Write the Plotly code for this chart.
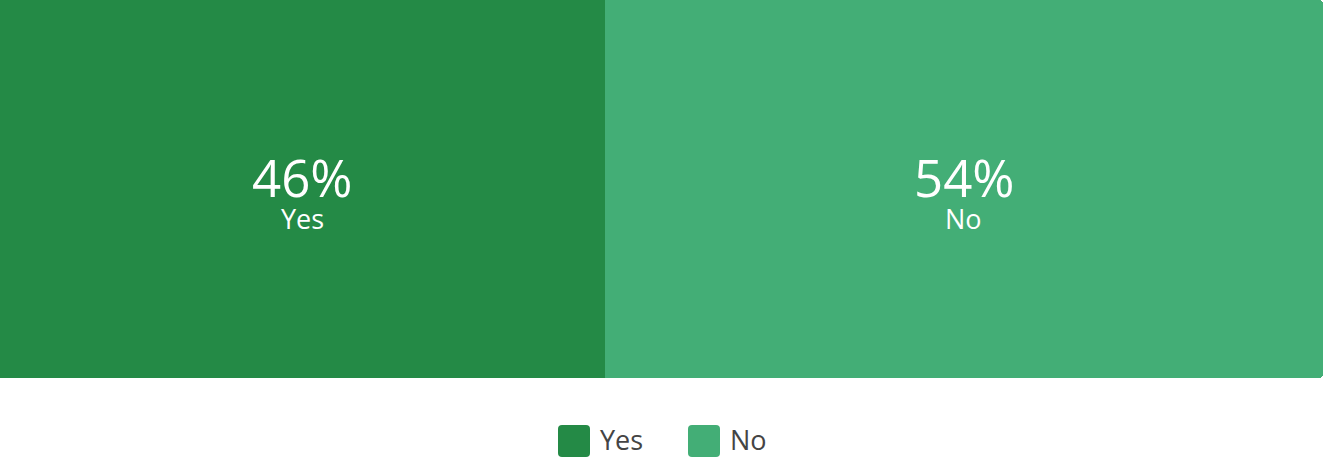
import plotly.graph_objects as go

categories = ["Yes", "No"]
values = [45.7, 54.3]
labels = ["46%", "54%"]
colors = ["#248A46", "#43AE76"]

W, H = 1323, 459
PLOT_BOTTOM = 378  # pixel where the bar area ends
FONT = "Open Sans"

def px_x(p):
    return p / W

def px_y(p):
    return (PLOT_BOTTOM - p) / PLOT_BOTTOM

fig = go.Figure()
annotations = []
base = 0
for cat, val, lab, col in zip(categories, values, labels, colors):
    fig.add_trace(go.Bar(
        y=[0], x=[val], orientation="h", name=cat,
        marker=dict(color=col, line=dict(width=0)),
        hoverinfo="skip", showlegend=False,
    ))
    mid = base + val / 2
    base += val
    annotations.append(dict(x=mid, y=px_y(177), xref="x", yref="paper", text=lab,
                            showarrow=False, xanchor="center", yanchor="middle",
                            font=dict(family=FONT, size=51, color="white")))
    annotations.append(dict(x=mid, y=px_y(218), xref="x", yref="paper", text=cat,
                            showarrow=False, xanchor="center", yanchor="middle",
                            font=dict(family=FONT, size=27, color="white")))

# custom legend (rounded squares + labels)
shapes = []
sq = 32
leg_top = 425
starts = [558, 688]
for cat, col, x0 in zip(categories, colors, starts):
    r = 4
    x1 = x0 + sq
    y0 = leg_top
    y1 = leg_top + sq
    path = (f"M {px_x(x0+r)},{px_y(y0)} L {px_x(x1-r)},{px_y(y0)} "
            f"Q {px_x(x1)},{px_y(y0)} {px_x(x1)},{px_y(y0+r)} "
            f"L {px_x(x1)},{px_y(y1-r)} Q {px_x(x1)},{px_y(y1)} {px_x(x1-r)},{px_y(y1)} "
            f"L {px_x(x0+r)},{px_y(y1)} Q {px_x(x0)},{px_y(y1)} {px_x(x0)},{px_y(y1-r)} "
            f"L {px_x(x0)},{px_y(y0+r)} Q {px_x(x0)},{px_y(y0)} {px_x(x0+r)},{px_y(y0)} Z")
    shapes.append(dict(type="path", xref="paper", yref="paper", path=path,
                       fillcolor=col, line=dict(width=0)))
    annotations.append(dict(x=px_x(x1 + 8), y=px_y(leg_top + sq / 2 - 2),
                            xref="paper", yref="paper", text=cat, showarrow=False,
                            xanchor="left", yanchor="middle",
                            font=dict(family=FONT, size=27, color="#444444")))

fig.update_layout(
    width=W, height=H,
    margin=dict(l=0, r=0, t=0, b=H - PLOT_BOTTOM),
    barmode="stack", bargap=0, barcornerradius=4,
    xaxis=dict(range=[0, 100], visible=False, fixedrange=True),
    yaxis=dict(range=[-0.5, 0.5], visible=False, fixedrange=True),
    paper_bgcolor="white", plot_bgcolor="white",
    shapes=shapes, annotations=annotations,
)

fig.write_html(
    "out.html",
    config={"displayModeBar": False},
    post_script="document.body.style.margin='0';document.body.style.overflow='hidden';",
)
